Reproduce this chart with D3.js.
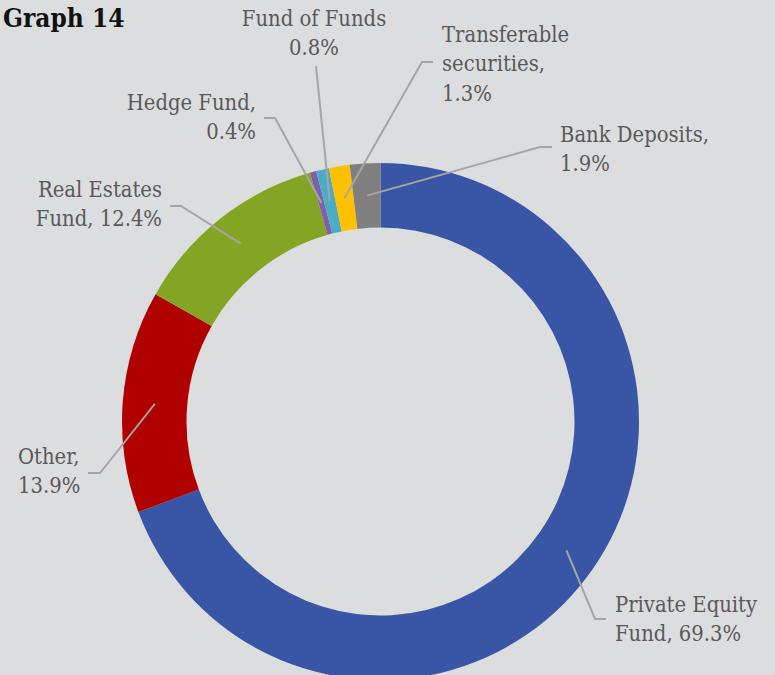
<!DOCTYPE html>
<html>

<head>
    <script type="text/javascript" src="https://cdnjs.cloudflare.com/ajax/libs/d3/7.8.5/d3.min.js"></script>
    <style>
        body {
            margin: 0;
            background: #dcdddf;
        }

        svg text.lbl {
            fill: #595959;
            font: 21.8px "DejaVu Serif Condensed", "DejaVu Serif", serif;
            font-stretch: condensed;
        }

        svg text.title {
            fill: #111;
            font: bold 26px "DejaVu Serif Condensed", "DejaVu Serif", serif;
            font-stretch: condensed;
        }
    </style>
</head>

<body>
    <script>
        var categories = ['Private Equity Fund', 'Other', 'Real Estates Fund', 'Hedge Fund',
            'Fund of Funds', 'Transferable securities', 'Bank Deposits'];
        var shares = [69.3, 13.9, 12.4, 0.4, 0.8, 1.3, 1.9];
        var colors = ['#3955a6', '#b00000', '#84a424', '#7d60a8', '#4bacc6', '#ffc000', '#7f7f7f'];

        // label lines and where the leader bends (layout only)
        var labelLines = [
            ['Private Equity', 'Fund, 69.3%'],
            ['Other,', '13.9%'],
            ['Real Estates', 'Fund, 12.4%'],
            ['Hedge Fund,', '0.4%'],
            ['Fund of Funds', '0.8%'],
            ['Transferable', 'securities,', '1.3%'],
            ['Bank Deposits,', '1.9%']
        ];
        var labelPos = [
            { x: 615, y: 612, anchor: 'start', bend: [[595, 619], [606, 619]] },
            { x: 18, y: 464, anchor: 'start', bend: [[100, 473], [88, 473]] },
            { x: 162, y: 197, anchor: 'end', bend: [[181, 206], [170, 206]] },
            { x: 256, y: 110, anchor: 'end', bend: [[275, 118], [264, 118]] },
            { x: 314, y: 26, anchor: 'middle', bend: [[316, 66]] },
            { x: 442, y: 42, anchor: 'start', bend: [[422, 62], [433, 62]] },
            { x: 560, y: 142, anchor: 'start', bend: [[540, 147], [552, 147]] }
        ];

        var width = 775,
            height = 675,
            cx = 380.5,
            cy = 421.5,
            outerR = 258.5,
            innerR = 194;

        var svg = d3.select('body')
            .append('svg')
            .attr('width', width)
            .attr('height', height);

        svg.append('text')
            .attr('class', 'title')
            .attr('x', 3)
            .attr('y', 27)
            .text('Graph 14');

        var data = categories.map(function(c, i) {
            return { name: c, value: shares[i], i: i };
        });

        var pie = d3.pie()
            .sort(null)
            .value(function(d) { return d.value; });

        var arc = d3.arc()
            .innerRadius(innerR)
            .outerRadius(outerR);

        var g = svg.append('g')
            .attr('transform', 'translate(' + cx + ',' + cy + ')');

        var arcs = pie(data);

        g.selectAll('path')
            .data(arcs)
            .enter()
            .append('path')
            .attr('d', arc)
            .attr('fill', function(d) { return colors[d.data.i]; });

        // leader lines
        svg.selectAll('polyline')
            .data(arcs)
            .enter()
            .append('polyline')
            .attr('points', function(d) {
                var c = arc.centroid(d);
                var pts = [[c[0] + cx, c[1] + cy]].concat(labelPos[d.data.i].bend);
                return pts.map(function(p) { return p.join(','); }).join(' ');
            })
            .attr('fill', 'none')
            .attr('stroke', '#a5a5a5')
            .attr('stroke-width', 2);

        var labels = svg.selectAll('text.lbl')
            .data(arcs)
            .enter()
            .append('text')
            .attr('class', 'lbl')
            .attr('x', function(d) { return labelPos[d.data.i].x; })
            .attr('y', function(d) { return labelPos[d.data.i].y; })
            .attr('text-anchor', function(d) { return labelPos[d.data.i].anchor; });

        labels.selectAll('tspan')
            .data(function(d) {
                return labelLines[d.data.i].map(function(t) {
                    return { t: t, x: labelPos[d.data.i].x };
                });
            })
            .enter()
            .append('tspan')
            .attr('x', function(d) { return d.x; })
            .attr('dy', function(d, j) { return j === 0 ? 0 : 29.3; })
            .text(function(d) { return d.t; });
    </script>
</body>

</html>
